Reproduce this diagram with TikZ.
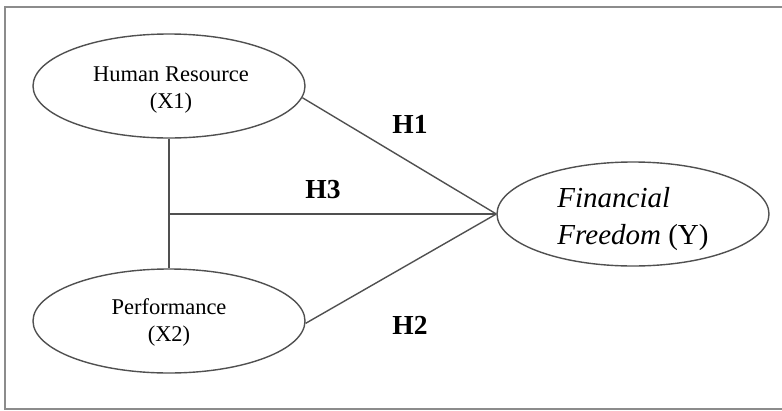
\documentclass[tikz,border=0pt]{standalone}
\usepackage{fontspec}
\setmainfont{Liberation Serif}
\usetikzlibrary{shapes.geometric}
\definecolor{linegray}{RGB}{80,80,80}
\definecolor{framegray}{RGB}{140,140,140}
\tikzset{
  construct/.style={ellipse, draw=linegray, line width=1.4pt, minimum width=272pt, minimum height=104pt, inner sep=0pt},
  ctext/.style={align=center, inner sep=0pt, font=\fontsize{22.5}{27}\selectfont},
  conn/.style={draw=linegray, line width=1.4pt},
  hyp/.style={font=\fontsize{27.5}{30}\selectfont\bfseries, text=black}
}
\begin{document}
\begin{tikzpicture}[x=1pt,y=-1pt]
\useasboundingbox (0,0) rectangle (782,410);
\draw[framegray, line width=2pt] (782,7) -- (5,7) -- (5,409) -- (782,409);
\node[construct] (x1) at (169,86) {};
\node[construct] (x2) at (169,321) {};
\node[construct] (y) at (633,214) {};
\node[ctext] (t1) at (171,90) {Human Resource\\(X1)};
\node[ctext] (t2) at (169,322) {Performance\\(X2)};
\node[ctext, align=left, font=\fontsize{29}{37}\selectfont] (t3) at (633,219) {\textit{Financial}\\\textit{Freedom} (Y)};
\coordinate (j) at (x1.south |- y.west);
\draw[conn] (x1.-5) -- (y.west);
\draw[conn] (x2.-1) -- (y.west);
\draw[conn] (x1.south) -- (x2.north);
\draw[conn] (j) -- (y.west);
\node[hyp] (h1) at (410,124) {H1};
\node[hyp] (h3) at (323,190) {H3};
\node[hyp] (h2) at (410,325) {H2};
\end{tikzpicture}
\end{document}
